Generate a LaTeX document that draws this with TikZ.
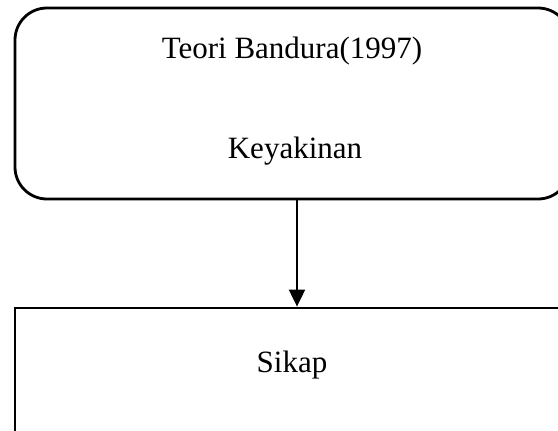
\documentclass[tikz,border=0pt]{standalone}
\usepackage{fontspec}
\setmainfont{Liberation Serif}
\usetikzlibrary{arrows.meta}
\begin{document}
\begin{tikzpicture}[x=1pt,y=-1pt,
  box/.style={draw=black,line width=2.8pt,inner sep=0pt},
  lbl/.style={anchor=base,inner sep=0pt,font=\fontsize{31}{37}\selectfont},
  conn/.style={line width=2pt,-{Triangle[length=17pt,width=16pt]}}]
\useasboundingbox (0,0) rectangle (558,431);
\clip (0,0) rectangle (558,431);
\node[box,rounded corners=32pt,minimum width=555pt,minimum height=191pt] (top) at (292.5,103.5) {};
\node[box,minimum width=555pt,minimum height=170pt] (bot) at (292.5,393) {};
\node[lbl] (t1) at (292,58) {Teori Bandura(1997)};
\node[lbl] (t2) at (295,158) {Keyakinan};
\node[lbl] (t3) at (292,372) {Sikap};
\coordinate (ax) at (297,0);
\draw[conn] (top.south -| ax) -- (bot.north -| ax);
\end{tikzpicture}
\end{document}
